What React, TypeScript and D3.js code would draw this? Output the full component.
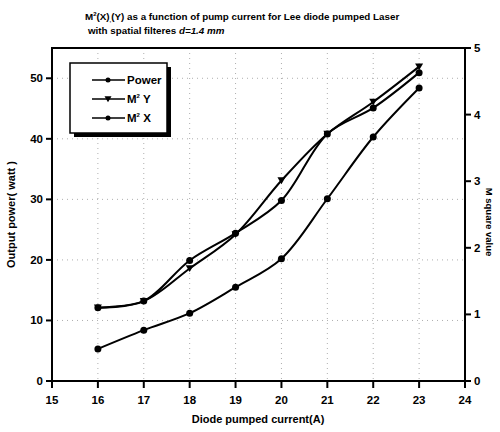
import React from "react";
import * as d3 from "d3";

const current = [16, 17, 18, 19, 20, 21, 22, 23];
const power = [5.3, 8.4, 11.2, 15.5, 20.2, 30.1, 40.3, 48.4];
const m2Y = [1.1, 1.2, 1.69, 2.2, 3.01, 3.71, 4.19, 4.72];
const m2X = [1.1, 1.2, 1.81, 2.22, 2.71, 3.71, 4.1, 4.63];
const xTicks = [15, 16, 17, 18, 19, 20, 21, 22, 23, 24];
const leftTicks = [0, 10, 20, 30, 40, 50];
const rightTicks = [0, 1, 2, 3, 4, 5];

const W = 500, H = 432;
const L = 52, R = 465, T = 48, B = 381;
const font = "Liberation Sans, Arial, sans-serif";

export default function App() {
  const x = d3.scaleLinear().domain([15, 24]).range([L, R]);
  const yL = d3.scaleLinear().domain([0, 55]).range([B, T]);
  const yR = d3.scaleLinear().domain([0, 5]).range([B, T]);

  const mkLine = (ys: d3.ScaleLinear<number, number>, vals: number[]) =>
    d3.line<number>()
      .x((_, i) => x(current[i]))
      .y((v) => ys(v))
      .curve(d3.curveCatmullRom.alpha(0.5))(vals) as string;

  const tri = (cx: number, cy: number, s = 4) =>
    `M${cx - s},${cy - s * 0.8}L${cx + s},${cy - s * 0.8}L${cx},${cy + s * 0.9}Z`;

  return (
    <svg width={W} height={H} style={{ position: "absolute", left: 0, top: 0, background: "#fff" }}>
      <rect width={W} height={H} fill="#fff" />
      {/* title */}
      <text x={85} y={20} fontFamily={font} fontWeight="bold" fontSize={9.8} fill="#000">
        M<tspan dy={-4} fontSize={6}>2</tspan><tspan dy={4}>(X)</tspan><tspan dy={2} fontSize={6}>,</tspan><tspan dy={-2}>(Y) as a function of pump current for Lee diode pumped Laser</tspan>
      </text>
      <text x={88} y={34} fontFamily={font} fontWeight="bold" fontSize={9.8} fill="#000">
        with spatial filteres <tspan fontStyle="italic">d=1.4 mm</tspan>
      </text>

      {/* grid */}
      {xTicks.slice(1, -1).map((t) => (
        <line key={"gx" + t} x1={x(t)} x2={x(t)} y1={T} y2={B} stroke="#999" strokeWidth={0.8} strokeDasharray="1,4" />
      ))}
      {leftTicks.slice(1).map((t) => (
        <line key={"gy" + t} x1={L} x2={R} y1={yL(t)} y2={yL(t)} stroke="#999" strokeWidth={0.8} strokeDasharray="1,4" />
      ))}

      {/* frame */}
      <rect x={L} y={T} width={R - L} height={B - T} fill="none" stroke="#000" strokeWidth={2} />

      {/* x ticks */}
      {xTicks.map((t) => (
        <g key={"xt" + t}>
          <line x1={x(t)} x2={x(t)} y1={B} y2={B + 7} stroke="#000" strokeWidth={2} />
          <text x={x(t)} y={B + 23} textAnchor="middle" fontFamily={font} fontWeight="bold" fontSize={11.5}>{t}</text>
        </g>
      ))}
      {/* left ticks */}
      {leftTicks.map((t) => (
        <g key={"lt" + t}>
          <line x1={L - 6} x2={L} y1={yL(t)} y2={yL(t)} stroke="#000" strokeWidth={2} />
          <text x={L - 9} y={yL(t) + 4} textAnchor="end" fontFamily={font} fontWeight="bold" fontSize={11.5}>{t}</text>
        </g>
      ))}
      {/* right ticks */}
      {rightTicks.map((t) => (
        <g key={"rt" + t}>
          <line x1={R} x2={R + 6} y1={yR(t)} y2={yR(t)} stroke="#000" strokeWidth={2} />
          <text x={R + 9} y={yR(t) + 4} textAnchor="start" fontFamily={font} fontWeight="bold" fontSize={11.5}>{t}</text>
        </g>
      ))}

      {/* axis titles */}
      <text x={258} y={423} textAnchor="middle" fontFamily={font} fontSize={11} fontWeight="bold">Diode pumped current(A)</text>
      <text transform={`translate(15,${(T + B) / 2}) rotate(-90)`} textAnchor="middle" fontFamily={font} fontSize={11} fontWeight="bold">Output power( watt )</text>
      <text transform={`translate(486,222) rotate(90)`} textAnchor="middle" fontFamily={font} fontSize={9.5} fontWeight="bold">M square value</text>

      {/* series */}
      <path d={mkLine(yL, power)} fill="none" stroke="#000" strokeWidth={2} />
      <path d={mkLine(yR, m2Y)} fill="none" stroke="#000" strokeWidth={2} />
      <path d={mkLine(yR, m2X)} fill="none" stroke="#000" strokeWidth={2} />
      {power.map((v, i) => (
        <circle key={"p" + i} cx={x(current[i])} cy={yL(v)} r={3.5} fill="#000" />
      ))}
      {m2Y.map((v, i) => (
        <path key={"y" + i} d={tri(x(current[i]), yR(v))} fill="#000" />
      ))}
      {m2X.map((v, i) => (
        <circle key={"x" + i} cx={x(current[i])} cy={yR(v)} r={3.5} fill="#000" />
      ))}

      {/* legend */}
      <rect x={74} y={67} width={97} height={70} fill="#000" />
      <rect x={70} y={63} width={97} height={70} fill="#fff" stroke="#000" strokeWidth={1.5} />
      {[
        { label: "Power", kind: "c", y: 80 },
        { label: "M", sup: true, rest: " Y", kind: "t", y: 99 },
        { label: "M", sup: true, rest: " X", kind: "c", y: 118 },
      ].map((e, i) => (
        <g key={"lg" + i}>
          <line x1={92} x2={125} y1={e.y} y2={e.y} stroke="#000" strokeWidth={1.5} />
          {e.kind === "c" ? <circle cx={108} cy={e.y} r={2.5} fill="#000" /> : <path d={tri(108, e.y, 3.5)} fill="#000" />}
          <text x={127} y={e.y + 4} fontFamily={font} fontWeight="bold" fontSize={11.5}>
            {e.label}
            {e.sup ? <tspan dy={-5} fontSize={6}>2</tspan> : null}
            {e.sup ? <tspan dy={5}>{e.rest}</tspan> : null}
          </text>
        </g>
      ))}
    </svg>
  );
}
